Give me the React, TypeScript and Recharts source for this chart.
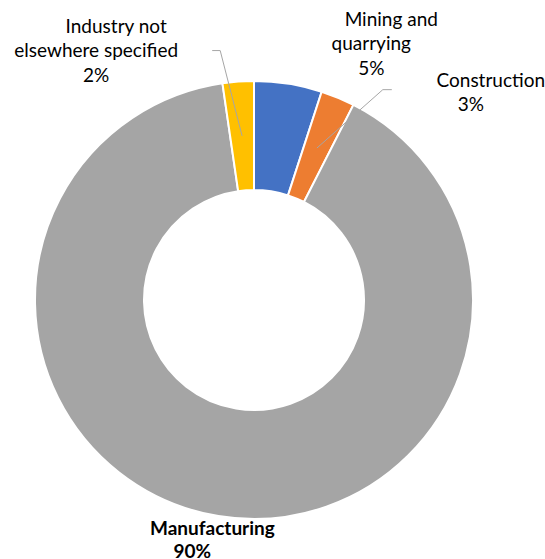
import { PieChart, Pie, Cell } from "recharts";

// sectors in drawing order, clockwise from 12 o'clock
const categories = ["Mining and quarrying", "Construction", "Manufacturing", "Industry not elsewhere specified"];
const shares = [5.0, 2.5, 90.2, 2.3];
const labelLines = [["Mining and", "quarrying"], ["Construction"], ["Manufacturing"], ["Industry not", "elsewhere specified"]];
const colors = ["#4472C4", "#ED7D31", "#A5A5A5", "#FFC000"];

const data = categories.map((name, i) => ({ name, value: shares[i] }));

// label placement relative to the outer-edge point at each slice's mid angle
const labelLayout = [
  { dx: 83, dy: -58, leader: null },
  { dx: 133, dy: -11, leader: { ex: 45, ey: -8, hx: 54 } },
  { dx: -26, dy: 19, leader: null, bold: true },
  { dx: -142, dy: -49, leader: { ex: -18, ey: -31, hx: -26 } },
];

const RAD = Math.PI / 180;
const FONT = "Lato, 'Open Sans', sans-serif";
const LINE = 24.5;

const renderLabel = (props: any) => {
  const { cx, cy, midAngle, innerRadius, outerRadius, index, percent } = props;
  const cos = Math.cos(-midAngle * RAD);
  const sin = Math.sin(-midAngle * RAD);
  const ox = cx + outerRadius * cos;
  const oy = cy + outerRadius * sin;
  const midR = (innerRadius + outerRadius) / 2;
  const sx = cx + midR * cos;
  const sy = cy + midR * sin;
  const lay = labelLayout[index];
  const tx = ox + lay.dx;
  const ty = oy + lay.dy;
  const lines = [...labelLines[index], `${Math.round(percent * 100)}%`];
  return (
    <g>
      {lay.leader && (
        <polyline
          points={`${sx},${sy} ${ox + lay.leader.ex},${oy + lay.leader.ey} ${ox + lay.leader.hx},${oy + lay.leader.ey}`}
          fill="none"
          stroke="#A6A6A6"
          strokeWidth={1}
        />
      )}
      <text
        fontFamily={FONT}
        fontSize={19}
        fontWeight={lay.bold ? 700 : 400}
        fill="#000"
        textAnchor="middle"
      >
        {lines.map((t, i) => (
          <tspan key={i} x={i === 0 ? tx + 20 : tx} y={ty + i * (lay.bold ? 23 : LINE)}>
            {t}
          </tspan>
        ))}
      </text>
    </g>
  );
};

export default function App() {
  return (
    <div style={{ position: "absolute", left: 0, top: 0, width: 545, height: 559, background: "#fff" }}>
      <PieChart width={545} height={559} margin={{ top: 0, right: 0, bottom: 0, left: 0 }}>
        <Pie
          data={data}
          dataKey="value"
          nameKey="name"
          cx={254}
          cy={300}
          innerRadius={110}
          outerRadius={219}
          startAngle={90}
          endAngle={-270}
          stroke="#fff"
          strokeWidth={2}
          label={renderLabel}
          labelLine={false}
          isAnimationActive={false}
        >
          {data.map((d, i) => (
            <Cell key={d.name} fill={colors[i]} />
          ))}
        </Pie>
      </PieChart>
    </div>
  );
}
